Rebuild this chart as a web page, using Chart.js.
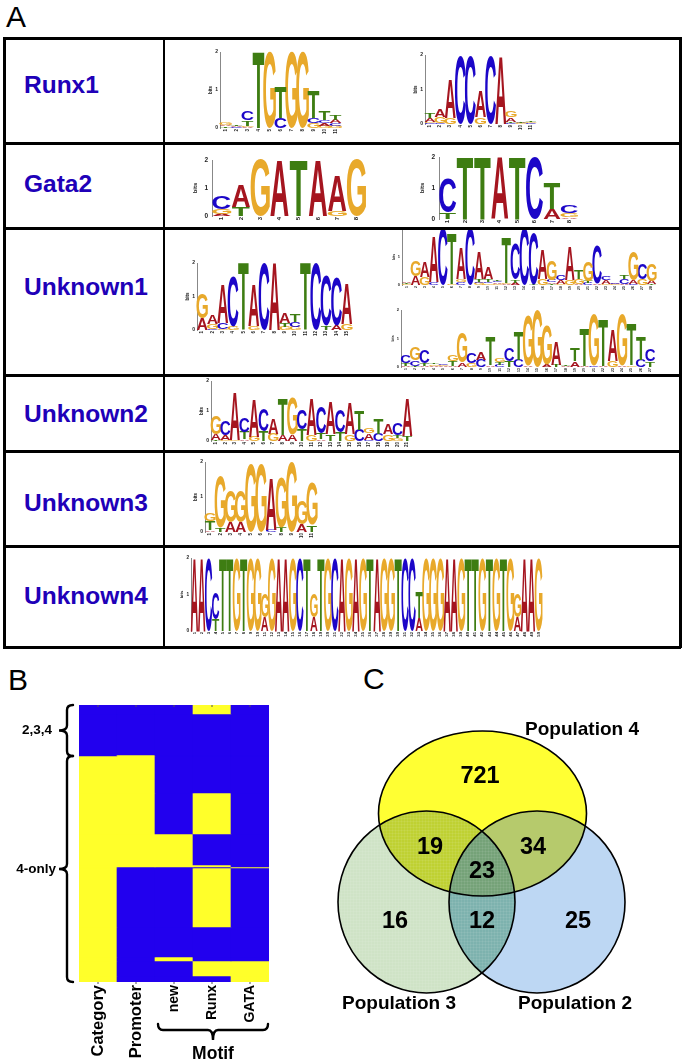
<!DOCTYPE html>
<html><head><meta charset="utf-8">
<script src="https://cdn.jsdelivr.net/npm/chart.js@4"></script>
<style>
html,body{margin:0;padding:0;background:#fff;width:686px;height:1063px;overflow:hidden;font-family:"Liberation Sans",Arial,sans-serif}
canvas{position:absolute;display:block}
.logo{filter:blur(.35px)}
.line{position:absolute;background:#000;z-index:5}
.row{position:absolute;left:24px;color:#2000B8;font:bold 24.5px "Liberation Sans",Arial,sans-serif;transform:translateY(-50%);z-index:6}
.panel{position:absolute;color:#000;font:30px "Liberation Sans",Arial,sans-serif;line-height:30px}
</style></head><body>
<script>
/* ---------- sequence logo data: each position lists letter+bits, bottom to top ---------- */
const runx1a=["T.04 A.03 G.05","C.02 A.02 T.02","A.02 G.03 T.15 C.25","T2","G2","C.27 T.8","G2","G2","G.12 C.15 T.72","G.05 A.07 C.08 T.22","G.05 C.07 A.09 T.14"];
const runx1b=["C.04 G.02 A.1 T.16","C.03 G.17 A.21","G.18 A1.12","C2","C2","G.2 A.75","C2","A1.95","C.04 T.03 A.12 G.18","G.02 A.02 T.03","C.03 G.03 T.03"];
const gata2a=["A.08 G.18 C.48","T.32 A.78","G2","A2","T2","A2","G.18 A1.27","G2"];
const gata2b=["T.22 C1.08","T2","T2","A2","T2","C2","A.32 T.84","A.05 G.13 C.27"];
const unknown1a=["A.34 G.76","C.03 G.14 A.26","G.02 C.2 A1.15","G.1 C1.5","T2","G.12 A1.25","C2","A2","G.1 T.12 A.31","G.1 C.15 T.22","T2","C2","T.12 C1.48","A.14 C1.46","G.18 A1.18"];
const unknown1b=["G.03 T.03 A.04","A.3 G.57","G.3 A.55","C.09 A1.6","C2","G.03 T1.8","C.1 G.1 A1.13","C2","G.07 C.05 T.08 A.98","G.06 C.06 T.08 A.4","G.05 A.05 C.05 T.06","A.03 G.05 T1.62","A.08 T.1 C1.26","C2","T.02 C1.82","G.22 A1.05","T.05 A.05 C.07 G.7","G.05 A.14 C.16","G.17 A1.2","A.03 G.19 T.3","C.08 T.07 G.7","A.05 C1.37","G.05 A.12 C.13","G.02 A.02 C.02","A.05 C.17 T.13","C.03 A.12 G1.02","G.22 C.56","T.03 A.12 G.6"];
const unknown1c=["A.05 T.09 C.28","T.03 C.2 G.47","A.05 T.1 C.48","A.05 G.04 T.05","A.04 G.04 C.05","A.05 T.16 G.22","A.15 G1.05","G.15 C.36","C.25 A.27","A.06 T.98","C.08 T.1 G.12","T.22 C.44","C.25 T.98","A.05 G1.77","G2","A.08 G1.38","T.08 A.82","A.05 T.03","A.2 T.43","A.05 T1.33","C.03 G1.82","A.05 T1.65","G.22 A1.07","A.03 G1.82","G.06 T1.46","C.25 T.81","T.2 C.4"];
const unknown2=["T.03 A.21 G.6","G.03 A.15 C.47","G.05 A1.6","A.06 T.25 C.47","G.15 A1.27","T.33 C.74","G.25 A.5","A.2 T1.22","A.2 G1.22","T.38 C.65","G.2 A1.22","A.06 T.2 C.86","T.22 A1.06","T.3 C.76","G.22 A1.05","C.37 T.65","C.05 A.2 G.17","C.25 T.51","G.22 A.35","G.1 T.1 C.39","T.17 A1.25"];
const unknown3=["A.05 T.25 G.23","T.12 G1.48","A.28 G.89","A.28 G.89","G1.97","G1.97","C.06 A1.5","T.13 G1.41","G2","A.22 G.66","T.2 G1.2"];
const unknown4=["A2","A2","C2","T.33 C.71","T2","T2","G2","T2","G2","G2","A.38 G.66","G2","A2","A2","G2","C2","T2","A.38 G.66","T2","G2","C2","A2","G2","A2","G2","T2","A2","G2","G2","T2","C2","C2","A.35 T.72","G2","G2","G2","A2","A2","G2","T2","T2","G2","T2","G2","T2","G2","A.38 G.66","A2","A2","G2"];
const bitTicks=[0,1,2];

/* ---------- heat map: band heights (rows) and yellow(1)/blue(0) per column ---------- */
const heatColumns=["Category","Promoter","new","Runx","GATA"];
const heatBands=[9,41,1,37,41,31,2,1,59,30,4,15,6];
const heatCategory=[0,0,0,1,1,1,1,1,1,1,1,1,1];
const heatPromoter=[0,0,1,1,1,1,1,0,0,0,0,0,0];
const heatNew=[0,0,0,0,0,1,1,0,0,0,1,0,0];
const heatRunx=[1,0,0,0,1,0,1,0,1,0,0,1,0];
const heatGata=[0,0,0,0,0,0,0,1,0,0,0,1,1];

/* ---------- Venn ---------- */
const vennSets=["Population 4","Population 3","Population 2"];
const vennCx=[162.5,106.5,217];
const vennCy=[103.5,192,192];
const vennRx=[104,88.5,88];
const vennRy=[82.5,91,91];
const vennSetLabelX=[262,79,255];
const vennSetLabelY=[20,294,294];
const vennCounts=["721","19","34","23","16","12","25"];
const vennCountX=[160,110,213,162,75,162,258];
const vennCountY=[67,138,138,162,212,212,212];

/* ---------- layout of the panels ---------- */
const tableRows=[38,143,228,375,451,546,647];
const rowNames=["Runx1","Gata2","Unknown1","Unknown2","Unknown3","Unknown4"];
const rowNameY=[85,184,287,414,503,596];
const logoBoxes=[
 {seq:runx1a,left:220.2,step:11,top:51.7,h:75.6,fs:4.5,yw:12,wide:1.1},
 {seq:runx1b,left:425,step:10.07,top:55,h:69.3,fs:4.5,yw:12,wide:1.08},
 {seq:gata2a,left:212.1,step:19.2,top:160,h:55.7,fs:6,yw:20,wide:.95},
 {seq:gata2b,left:439,step:17.33,top:156.7,h:61.6,fs:6,yw:20,wide:.98},
 {seq:unknown1a,left:196.5,step:10.3,top:263,h:67,fs:4.5,yw:12,wide:1.05},
 {seq:unknown1b,left:401.5,step:9.07,top:229,h:56,fs:3.5,yw:10,wide:1.05},
 {seq:unknown1c,left:401.3,step:9.4,top:309.7,h:57,fs:3.5,yw:10,wide:1.05},
 {seq:unknown2,left:210.9,step:9.57,top:381,h:60,fs:4.5,yw:12,wide:1.05},
 {seq:unknown3,left:205,step:10.15,top:462,h:69.7,fs:4.5,yw:12,wide:1.05},
 {seq:unknown4,left:190.5,step:7.02,top:558,h:73,fs:4.2,yw:12,wide:1.05}
];
const LETTER_COLORS={A:'#A5151F',C:'#1C06C8',G:'#E8A92B',T:'#3E7D12'};
const LETTER_WIDTH={A:1,C:1,G:1.05,T:.97};
const FONT='"Liberation Sans",Arial,sans-serif';
Chart.defaults.animation=false;

function addCanvas(x,y,w,h,cls){
  const c=document.createElement('canvas');c.width=w;c.height=h;
  c.style.cssText=`left:${x}px;top:${y}px;width:${w}px;height:${h}px`;
  if(cls)c.className=cls;document.body.appendChild(c);return c.getContext('2d');
}
/* draw one glyph stretched to fill a bar rectangle */
function stretched(ctx,ch,x0,y0,w,h,color){
  if(h<=0)return;
  ctx.save();
  ctx.font='bold 100px '+FONT;ctx.textBaseline='alphabetic';ctx.textAlign='left';
  const m=ctx.measureText(ch);
  const gw=m.actualBoundingBoxLeft+m.actualBoundingBoxRight;
  const gh=m.actualBoundingBoxAscent+m.actualBoundingBoxDescent;
  ctx.translate(x0,y0);ctx.scale(w/gw,h/gh);
  ctx.fillStyle=color;
  ctx.fillText(ch,m.actualBoundingBoxLeft,m.actualBoundingBoxAscent);
  ctx.restore();
}
const letterPlugin={id:'letters',afterDatasetsDraw(chart){
  const ctx=chart.ctx,wide=chart.options.plugins.letters.wide;
  chart.data.datasets.forEach((ds,i)=>{
    chart.getDatasetMeta(i).data.forEach((el,j)=>{
      const ch=ds.letters[j];if(!ch)return;
      const p=el.getProps(['x','y','base','width'],true);
      const w=p.width*wide*LETTER_WIDTH[ch];
      stretched(ctx,ch,p.x-w/2,p.y,w,p.base-p.y,LETTER_COLORS[ch]);
    });
  });
}};
function parseSeq(seq){return seq.map(s=>s.split(' ').map(t=>({l:t[0],h:parseFloat(t.slice(1))})));}

logoBoxes.forEach(b=>{
  const pos=parseSeq(b.seq),n=Math.max(...pos.map(p=>p.length));
  const datasets=[];
  for(let k=0;k<n;k++)datasets.push({
    data:pos.map(p=>p[k]?p[k].h:0),
    letters:pos.map(p=>p[k]?p[k].l:null),
    backgroundColor:'rgba(0,0,0,0)',borderWidth:0,barPercentage:1,categoryPercentage:1
  });
  const w=Math.round(b.seq.length*b.step),pad=6,xh=14,yw=b.yw;
  const ctx=addCanvas(Math.round(b.left-yw),Math.round(b.top-pad),yw+w+pad,Math.round(b.h)+pad+xh,'logo');
  new Chart(ctx,{type:'bar',data:{labels:b.seq.map((_,i)=>String(i+1)),datasets},
    options:{responsive:false,maintainAspectRatio:false,
      layout:{autoPadding:false,padding:{top:pad,right:pad,left:0,bottom:0}},
      plugins:{legend:{display:false},tooltip:{enabled:false},letters:{wide:b.wide}},
      scales:{
        x:{stacked:true,afterFit(s){s.height=xh;},grid:{display:false,drawTicks:false},border:{display:false},
           ticks:{autoSkip:false,minRotation:90,maxRotation:90,padding:1,color:'#222',font:{size:b.fs,weight:'bold',family:FONT}}},
        y:{stacked:true,min:0,max:2,afterFit(s){s.width=yw;},afterBuildTicks(s){s.ticks=bitTicks.map(v=>({value:v}));},
           grid:{display:false,tickLength:2,drawOnChartArea:false,color:'#777'},border:{color:'#888',width:1},
           title:{display:true,text:'bits',padding:0,color:'#222',font:{size:b.fs,weight:'bold',family:FONT}},
           ticks:{padding:b.fs>5?2:0,color:'#222',font:{size:b.fs+.5,weight:'bold',family:FONT}}}
      }},plugins:[letterPlugin]});
});

/* ---------- table frame and row names ---------- */
function line(x,y,w,h){const d=document.createElement('div');d.className='line';
  d.style.cssText=`left:${x}px;top:${y}px;width:${w}px;height:${h}px`;document.body.appendChild(d);}
tableRows.forEach(y=>line(3,y-1,678,2.5));
line(3,37,2.5,611);line(679,37,2.5,611);line(162.5,37,2,611);
rowNames.forEach((t,i)=>{const d=document.createElement('div');d.className='row';d.textContent=t;d.style.top=rowNameY[i]+'px';document.body.appendChild(d);});
[['A',6,2],['B',8,665],['C',363,664]].forEach(([t,x,y])=>{const d=document.createElement('div');d.className='panel';d.textContent=t;d.style.left=x+'px';d.style.top=y+'px';document.body.appendChild(d);});

/* ---------- panel B ---------- */
function brace(ctx,map,a,b,tip,arm){
  /* spine runs from a to b at depth 0; the tip points to -tip and the ends turn to +arm */
  const mid=(a+b)/2,r=5,pt=(t,d)=>map(t,d);
  const M=(t,d)=>ctx.moveTo(...pt(t,d)),L=(t,d)=>ctx.lineTo(...pt(t,d));
  const Q=(t1,d1,t2,d2)=>ctx.quadraticCurveTo(...pt(t1,d1),...pt(t2,d2));
  ctx.beginPath();M(a,arm);Q(a,0,a+r,0);L(mid-r,0);Q(mid,0,mid,-tip);Q(mid,0,mid+r,0);L(b-r,0);Q(b,0,b,arm);
  ctx.lineWidth=2.4;ctx.strokeStyle='#000';ctx.lineCap='round';ctx.stroke();
}
const heatAnnot={id:'heatAnnot',afterDraw(chart){
  const {ctx,scales:{x,y},chartArea:ca}=chart;
  ctx.save();
  ctx.strokeStyle='#555';ctx.lineWidth=1;
  heatColumns.forEach((_,i)=>{const px=x.getPixelForValue(i);
    ctx.beginPath();ctx.moveTo(px,ca.top);ctx.lineTo(px,ca.top+2);ctx.moveTo(px,ca.bottom);ctx.lineTo(px,ca.bottom+2);ctx.stroke();});
  const split=heatBands.slice(0,2).reduce((s,v)=>s+v,0)+1;
  const left=(t,d)=>[ca.left-12+d,t];
  brace(ctx,left,y.getPixelForValue(0),y.getPixelForValue(split),8,6);
  brace(ctx,left,y.getPixelForValue(split),y.getPixelForValue(277),8,6);
  const x1=x.getPixelForValue(2)-16,x2=ca.right-1,by=ca.bottom+48;
  brace(ctx,(t,d)=>[t,by-d],x1,x2,10,6);
  ctx.fillStyle='#000';ctx.textBaseline='middle';ctx.textAlign='right';
  ctx.font='bold 13.5px '+FONT;ctx.fillText('2,3,4',ca.left-27,y.getPixelForValue(split/2));
  ctx.font='bold 13.5px '+FONT;ctx.fillText('4-only',ca.left-23,y.getPixelForValue((split+277)/2));
  ctx.textAlign='center';ctx.font='bold 17.5px '+FONT;ctx.fillText('Motif',(x1+x2)/2,by+24);
  ctx.restore();
}};
(function(){
  const columns=[heatCategory,heatPromoter,heatNew,heatRunx,heatGata];
  const ctx=addCanvas(0,700,273,363);
  const datasets=heatBands.map((h,b)=>({
    data:heatColumns.map(()=>h),
    backgroundColor:columns.map(col=>col[b]?'#FFFF2A':'#2200EE'),
    borderWidth:0,barPercentage:1,categoryPercentage:1
  }));
  new Chart(ctx,{type:'bar',data:{labels:heatColumns,datasets},
    options:{responsive:false,maintainAspectRatio:false,
      layout:{autoPadding:false,padding:{left:79,top:5,right:4,bottom:0}},
      plugins:{legend:{display:false},tooltip:{enabled:false}},
      scales:{
        x:{stacked:true,afterFit(s){s.height=81;},grid:{display:false,drawTicks:false},border:{display:false},
          ticks:{autoSkip:false,minRotation:90,maxRotation:90,padding:3,color:'#000',
            font:c=>({size:c.index<2?16.5:14,weight:'bold',family:FONT})}},
        y:{stacked:true,min:0,max:277,reverse:true,display:false}
      }},plugins:[heatAnnot]});
})();

/* ---------- panel C ---------- */
const vennPlugin={id:'venn',afterDatasetsDraw(chart){
  const {ctx,scales:{x,y}}=chart;
  const path=i=>{const cx=x.getPixelForValue(vennCx[i]),cy=y.getPixelForValue(vennCy[i]);
    const rx=x.getPixelForValue(vennCx[i]+vennRx[i])-cx,ry=y.getPixelForValue(vennCy[i]+vennRy[i])-cy;
    ctx.beginPath();ctx.ellipse(cx,cy,rx,Math.abs(ry),0,0,Math.PI*2);};
  const region=(ids,color)=>{ctx.save();ids.slice(0,-1).forEach(i=>{path(i);ctx.clip();});path(ids[ids.length-1]);ctx.fillStyle=color;ctx.fill();ctx.restore();};
  region([1],'#CFE3C6');region([2],'#BDD7F3');region([0],'#FFFF33');
  region([0,1],'#BFD132');region([0,2],'#B6CA6C');region([1,2],'#7DB2AE');region([0,1,2],'#75A278');
  /* faint mesh of the pale circle */
  const tile=document.createElement('canvas');tile.width=3;tile.height=3;
  const tc=tile.getContext('2d');tc.fillStyle='rgba(255,255,255,.07)';tc.fillRect(0,0,3,1);tc.fillRect(0,0,1,3);
  region([1],ctx.createPattern(tile,'repeat'));
  ctx.strokeStyle='#000';ctx.lineWidth=1.6;[0,1,2].forEach(i=>{path(i);ctx.stroke();});
  ctx.fillStyle='#000';ctx.textAlign='center';ctx.textBaseline='middle';
  ctx.font='bold 19px '+FONT;
  vennSets.forEach((s,i)=>ctx.fillText(s,x.getPixelForValue(vennSetLabelX[i]),y.getPixelForValue(vennSetLabelY[i])));
  ctx.font='bold 23.5px '+FONT;
  vennCounts.forEach((s,i)=>ctx.fillText(s,x.getPixelForValue(vennCountX[i]),y.getPixelForValue(vennCountY[i])));
}};
(function(){
  const ctx=addCanvas(320,710,340,320);
  new Chart(ctx,{type:'scatter',data:{datasets:vennSets.map((s,i)=>({label:s,data:[{x:vennCx[i],y:vennCy[i]}],pointRadius:0}))},
    options:{responsive:false,maintainAspectRatio:false,layout:{autoPadding:false,padding:0},
      plugins:{legend:{display:false},tooltip:{enabled:false}},
      scales:{x:{min:0,max:340,display:false},y:{min:0,max:320,reverse:true,display:false}}},plugins:[vennPlugin]});
})();
</script>
</body></html>
